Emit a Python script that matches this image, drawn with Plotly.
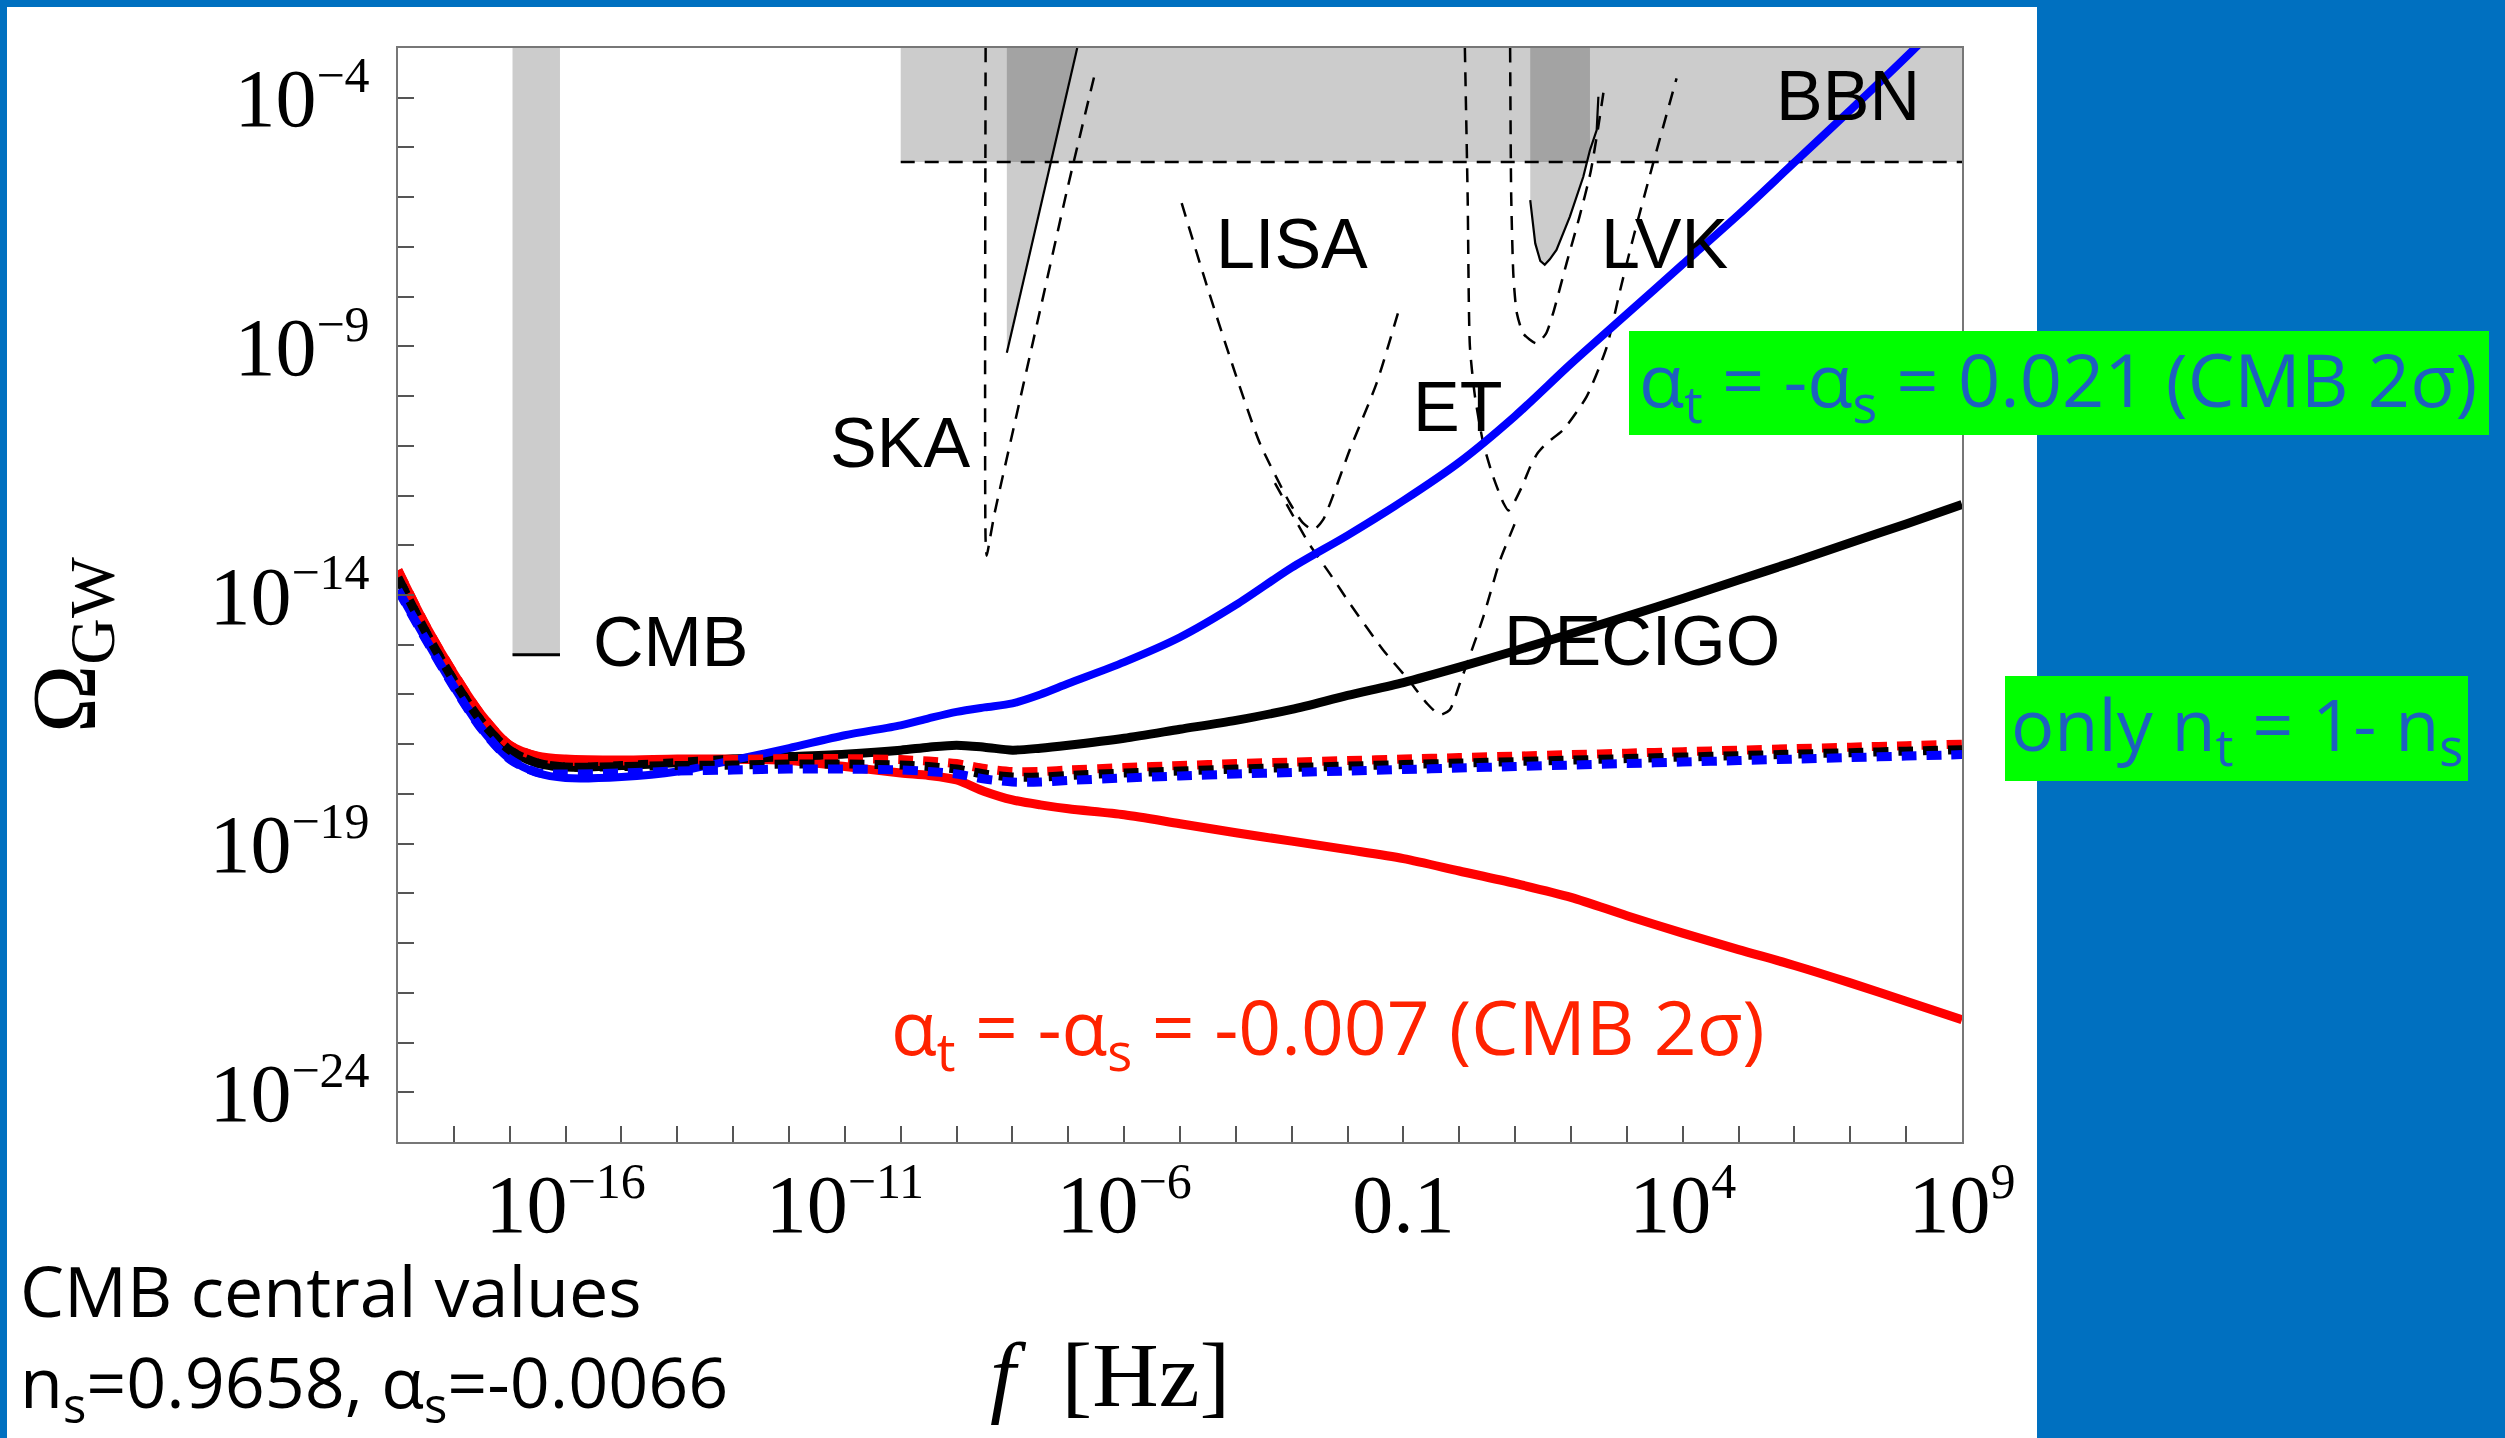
import plotly.graph_objects as go

W, H = 2505, 1438

# ---------------------------------------------------------------
# Model spectra: log10(f / Hz) grid and log10(Omega_GW) values
# ---------------------------------------------------------------
LOG_F = [-19, -18.5, -18, -17.5, -17, -16.5, -16, -15, -14, -13, -12, -11, -10,
         -9.5, -9, -8.5, -8, -7.5, -7, -6, -5, -4, -3, -2, -1, 0, 1, 2, 3, 4,
         5, 6, 7, 8, 9]

# running alpha_t = 0.021
LOG_OMEGA_BLUE = [-13.9, -14.9, -15.85, -16.7, -17.3, -17.58, -17.68, -17.66,
                  -17.55, -17.32, -17.08, -16.82, -16.62, -16.48, -16.35,
                  -16.26, -16.18, -16.0, -15.78, -15.35, -14.85, -14.2, -13.45,
                  -12.8, -12.1, -11.33, -10.4, -9.35, -8.35, -7.35, -6.35, -5.3,
                  -4.25, -3.18, -2.05]
# CMB central values
LOG_OMEGA_BLACK = [-13.65, -14.75, -15.72, -16.55, -17.12, -17.38, -17.46,
                   -17.43, -17.37, -17.3, -17.25, -17.2, -17.12, -17.06, -17.02,
                   -17.06, -17.12, -17.08, -17.02, -16.88, -16.7, -16.52, -16.3,
                   -16.02, -15.76, -15.45, -15.12, -14.78, -14.43, -14.07, -13.7,
                   -13.33, -12.95, -12.57, -12.18]
# running alpha_t = -0.007
LOG_OMEGA_RED = [-13.5, -14.62, -15.58, -16.42, -17.02, -17.24, -17.3, -17.32,
                 -17.3, -17.3, -17.33, -17.45, -17.58, -17.63, -17.72, -17.95,
                 -18.12, -18.22, -18.3, -18.42, -18.6, -18.78, -18.95, -19.12,
                 -19.3, -19.55, -19.8, -20.08, -20.45, -20.8, -21.13, -21.45,
                 -21.8, -22.17, -22.54]

# tilt only, n_t = 1 - n_s (three parameter sets, nearly coincident)
LOG_OMEGA_RED_TILT = [-13.5, -14.62, -15.58, -16.42, -17.02, -17.25, -17.34,
                      -17.34, -17.32, -17.31, -17.29, -17.29, -17.31, -17.34,
                      -17.39, -17.49, -17.55, -17.55, -17.52, -17.47, -17.43,
                      -17.39, -17.36, -17.33, -17.3, -17.27, -17.24, -17.21,
                      -17.18, -17.15, -17.12, -17.09, -17.06, -17.03, -17.0]
LOG_OMEGA_BLACK_TILT = [-13.65, -14.75, -15.72, -16.55, -17.12, -17.38, -17.46,
                        -17.45, -17.43, -17.42, -17.4, -17.4, -17.42, -17.45,
                        -17.5, -17.6, -17.66, -17.66, -17.63, -17.58, -17.54,
                        -17.5, -17.47, -17.44, -17.41, -17.38, -17.35, -17.32,
                        -17.29, -17.26, -17.23, -17.2, -17.17, -17.14, -17.11]
LOG_OMEGA_BLUE_TILT = [-13.9, -14.9, -15.85, -16.7, -17.3, -17.57, -17.6,
                       -17.58, -17.54, -17.52, -17.5, -17.5, -17.52, -17.55,
                       -17.6, -17.7, -17.76, -17.76, -17.73, -17.68, -17.64,
                       -17.6, -17.57, -17.54, -17.51, -17.48, -17.45, -17.42,
                       -17.39, -17.36, -17.33, -17.3, -17.27, -17.24, -17.21]

# ---------------------------------------------------------------
# Experimental bounds and sensitivities (log10 f, log10 Omega)
# ---------------------------------------------------------------
CMB_BAR_F = [-16.95, -16.1]
CMB_BAR_OMEGA = -15.2

BBN_F = [-10, 9]
BBN_OMEGA = -5.29

PTA_F = [-8.10, -8.10, -6.84]
PTA_OMEGA = [-3.0, -9.13, -3.0]

SKA_F = [-8.48, -8.48, -8.46, -8.40, -8.32, -7.97, -7.50, -7.01, -6.54]
SKA_OMEGA = [-3.0, -12.9, -13.21, -12.85, -12.36, -10.6, -8.25, -5.8, -3.59]

LISA_F = [-4.97, -4.55, -4.05, -3.57, -3.03, -2.80, -2.61, -2.44, -1.96, -1.48, -1.09]
LISA_OMEGA = [-6.12, -7.67, -9.41, -10.95, -12.16, -12.55, -12.69, -12.49, -11.08, -9.74, -8.30]

DECIGO_F = [-3.3, -2.7, -2.3, -1.96, -1.36, -0.9, -0.58, -0.35, -0.17, 0.01, 0.43, 0.73, 0.97, 1.05]
DECIGO_OMEGA = [-11.75, -12.95, -13.6, -14.17, -15.11, -15.72, -16.18, -16.41, -16.31, -15.78, -14.44, -13.3, -12.63, -12.4]

ET_F = [0.10, 0.15, 0.19, 0.28, 0.43, 0.60, 0.79, 0.88, 1.0, 1.15, 1.27, 1.40, 1.56,
        1.86, 2.28, 2.64, 2.88, 3.12, 3.47, 3.89]
ET_OMEGA = [-3.0, -6.0, -9.0, -10.0, -10.95, -11.6, -12.15, -12.3, -12.1, -11.75,
            -11.42, -11.15, -10.95, -10.68, -10.01, -9.01, -7.87, -6.79, -5.32, -3.61]

LVK_DESIGN_F = [0.91, 0.93, 0.97, 1.03, 1.15, 1.38, 1.55, 1.68, 1.92, 2.15, 2.35, 2.5, 2.58]
LVK_DESIGN_OMEGA = [-3.0, -6.0, -7.6, -8.33, -8.75, -8.94, -8.75, -8.33, -7.33, -6.4, -5.5, -4.5, -3.9]

LVK_BOUND_F = [1.27, 1.36, 1.45, 1.53, 1.62, 1.74, 1.98, 2.22, 2.34, 2.46, 2.49]
LVK_BOUND_OMEGA = [-6.06, -6.93, -7.28, -7.36, -7.25, -7.06, -6.39, -5.59, -5.05, -4.65, -3.98]
LVK_REGION_EDGE_F = 2.34

DETECTOR_LABELS = ["CMB", "SKA", "LISA", "ET", "LVK", "BBN", "DECIGO"]

X_TICK_EXP = [-16, -11, -6, -1, 4, 9]
X_TICK_POWER = ["−16", "−11", "−6", None, "4", "9"]
Y_TICK_EXP = [-4, -9, -14, -19, -24]
Y_TICK_POWER = ["−4", "−9", "−14", "−19", "−24"]


def power_label(p):
    if p is None:
        return "0.1"
    return "10<sup><span style='font-size:50px'>" + p + "</span></sup>"


def pw(v):
    return [10 ** e for e in v]


def px(x):
    return x / W


def py(y):
    return 1 - y / H


fig = go.Figure()

GREY = "rgba(0,0,0,0.2)"
DASH = "14px,10px"

# BBN band
fig.add_trace(go.Scatter(
    x=pw([BBN_F[0], BBN_F[1], BBN_F[1], BBN_F[0]]),
    y=pw([BBN_OMEGA, BBN_OMEGA, -3, -3]),
    fill="toself", fillcolor=GREY, mode="none", hoverinfo="skip"))
fig.add_trace(go.Scatter(
    x=pw(BBN_F), y=pw([BBN_OMEGA, BBN_OMEGA]), mode="lines",
    line=dict(color="black", width=2.5, dash=DASH), hoverinfo="skip"))

# CMB bound
fig.add_trace(go.Scatter(
    x=pw([CMB_BAR_F[0], CMB_BAR_F[1], CMB_BAR_F[1], CMB_BAR_F[0]]),
    y=pw([CMB_BAR_OMEGA, CMB_BAR_OMEGA, -3, -3]),
    fill="toself", fillcolor=GREY, mode="none", hoverinfo="skip"))
fig.add_trace(go.Scatter(
    x=pw(CMB_BAR_F), y=pw([CMB_BAR_OMEGA, CMB_BAR_OMEGA]), mode="lines",
    line=dict(color="black", width=3), hoverinfo="skip"))

# PTA bound
fig.add_trace(go.Scatter(
    x=pw(PTA_F), y=pw(PTA_OMEGA), fill="toself", fillcolor=GREY,
    mode="none", hoverinfo="skip"))
fig.add_trace(go.Scatter(
    x=pw(PTA_F[1:]), y=pw(PTA_OMEGA[1:]), mode="lines",
    line=dict(color="black", width=2.2), hoverinfo="skip"))

# LVK bound
lvk_poly_f = [LVK_BOUND_F[0]] + LVK_BOUND_F[:9] + [LVK_REGION_EDGE_F]
lvk_poly_o = [-3.0] + LVK_BOUND_OMEGA[:9] + [-3.0]
fig.add_trace(go.Scatter(
    x=pw(lvk_poly_f), y=pw(lvk_poly_o), fill="toself", fillcolor=GREY,
    mode="none", hoverinfo="skip"))
fig.add_trace(go.Scatter(
    x=pw(LVK_BOUND_F), y=pw(LVK_BOUND_OMEGA), mode="lines",
    line=dict(color="black", width=2.2), hoverinfo="skip"))

# projected sensitivities
for f_list, o_list in [(SKA_F, SKA_OMEGA), (LISA_F, LISA_OMEGA),
                       (DECIGO_F, DECIGO_OMEGA), (ET_F, ET_OMEGA),
                       (LVK_DESIGN_F, LVK_DESIGN_OMEGA)]:
    fig.add_trace(go.Scatter(
        x=pw(f_list), y=pw(o_list), mode="lines",
        line=dict(color="black", width=2.5, dash=DASH, shape="spline", smoothing=0.6),
        hoverinfo="skip"))

# model spectra
for vals, col, wdt in [(LOG_OMEGA_RED, "#ff0000", 9), (LOG_OMEGA_BLACK, "#000000", 9),
                       (LOG_OMEGA_BLUE, "#0000ff", 8)]:
    fig.add_trace(go.Scatter(
        x=pw(LOG_F), y=pw(vals), mode="lines",
        line=dict(color=col, width=wdt, shape="spline", smoothing=0.8),
        hoverinfo="skip"))

for vals, col in [(LOG_OMEGA_RED_TILT, "#ff0000"), (LOG_OMEGA_BLACK_TILT, "#000000"),
                  (LOG_OMEGA_BLUE_TILT, "#0000ff")]:
    fig.add_trace(go.Scatter(
        x=pw(LOG_F), y=pw(vals), mode="lines",
        line=dict(color=col, width=9, dash="15px,10px", shape="spline", smoothing=0.8),
        hoverinfo="skip"))

# axes
x_ticks = list(range(-19, 10))
y_ticks = list(range(-25, -2))
x_text = [power_label(X_TICK_POWER[X_TICK_EXP.index(k)]) if k in X_TICK_EXP else ""
          for k in x_ticks]
y_text = [power_label(Y_TICK_POWER[Y_TICK_EXP.index(k)]) if k in Y_TICK_EXP else ""
          for k in y_ticks]

axis_common = dict(
    showgrid=False, zeroline=False, showline=True, mirror=True, automargin=False,
    linecolor="#777777", linewidth=2, ticks="inside", ticklen=16,
    tickwidth=2, tickcolor="#555555",
    tickfont=dict(family="Liberation Serif", size=82, color="black"),
)

fig.update_layout(
    width=W, height=H,
    margin=dict(l=0, r=0, t=0, b=0, pad=0, autoexpand=False),
    paper_bgcolor="#0070C0",
    plot_bgcolor="white",
    showlegend=False,
    xaxis=dict(type="log", range=[-19, 9], domain=[398 / W, 1962 / W],
               tickmode="array", tickvals=pw(x_ticks), ticktext=x_text,
               ticklabelstandoff=-10, **axis_common),
    yaxis=dict(type="log", range=[-25, -3], domain=[py(1142), py(48)],
               tickmode="array", tickvals=pw(y_ticks), ticktext=y_text,
               ticklabelstandoff=10, **axis_common),
)

# white slide panel
fig.add_shape(type="rect", xref="paper", yref="paper", layer="below",
              x0=px(7), x1=px(2037), y0=0, y1=py(7),
              fillcolor="white", line=dict(width=0))

# green boxes
for x0, x1, y0, y1 in [(1629, 2489, 331, 435), (2005, 2468, 676, 781)]:
    fig.add_shape(type="rect", xref="paper", yref="paper", layer="above",
                  x0=px(x0), x1=px(x1), y0=py(y1), y1=py(y0),
                  fillcolor="#00FF00", line=dict(width=0))


def note(x, y, text, size, color="black", family="Liberation Sans",
         xanchor="center", angle=0):
    return dict(x=px(x), y=py(y), xref="paper", yref="paper", text=text,
                showarrow=False, xanchor=xanchor, yanchor="middle",
                textangle=angle, align="left" if xanchor == "left" else "center",
                font=dict(family=family, size=size, color=color))


ann = []
# detector labels
label_pos = {"CMB": (671, 642), "SKA": (900, 443), "LISA": (1292, 244),
             "ET": (1458, 407), "LVK": (1664, 244), "BBN": (1848, 96),
             "DECIGO": (1642, 641)}
for name in DETECTOR_LABELS:
    xx, yy = label_pos[name]
    ann.append(note(xx, yy, name, 70))

# axis titles
ann.append(note(70, 645, "Ω<sub>GW</sub>", 92, family="Liberation Serif", angle=-90))
ann.append(note(1110, 1375, "<i>f</i>\u00a0\u00a0[Hz]", 92, family="Liberation Serif"))

SANS = "Open Sans"
ann.append(note(1328, 1030, "α<sub>t</sub> = -α<sub>s</sub> = -0.007 (CMB 2σ)",
                75, color="#FF2200", family=SANS))
ann.append(note(2058, 383, "α<sub>t</sub> = -α<sub>s</sub> = 0.021 (CMB 2σ)",
                74, color="#1E5FC0", family=SANS))
ann.append(note(2237, 728, "only n<sub>t</sub> = 1- n<sub>s</sub>",
                72, color="#1E5FC0", family=SANS))
ann.append(note(18, 1339,
                "CMB central values<br>n<sub>s</sub>=0.9658, α<sub>s</sub>=-0.0066",
                70, family=SANS, xanchor="left"))

fig.update_layout(annotations=ann)

fig.write_html("out.html")
